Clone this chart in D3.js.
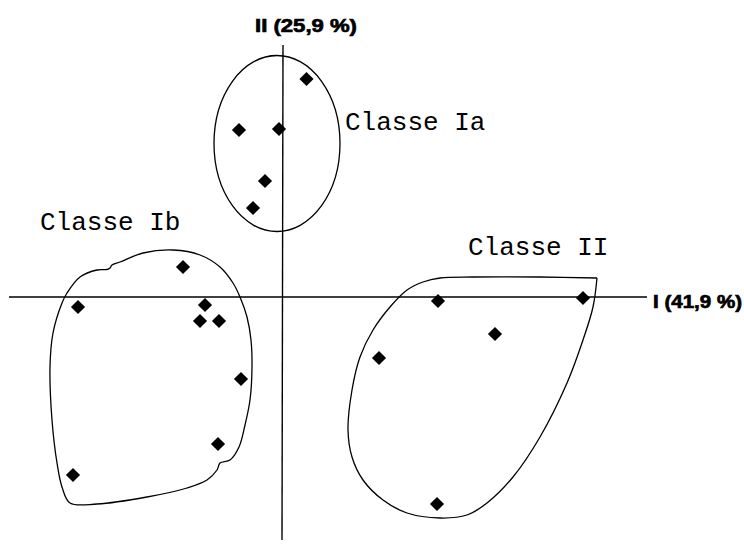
<!DOCTYPE html>
<html>
<head>
<meta charset="utf-8">
<script src="https://cdn.jsdelivr.net/npm/d3@7"></script>
<style>
  html, body { margin: 0; padding: 0; background: #fff; }
  svg { display: block; }
</style>
</head>
<body>
<svg class="chart"></svg>
<script>
const width = 744;
const height = 544;

// factor scores (axis I, axis II)
const classIa = [[0.45, 4.36], [-0.90, 3.34], [-0.10, 3.36], [-0.38, 2.32], [-0.62, 1.78]];
const classIb = [[-2.02, 0.60], [-4.12, -0.20], [-1.58, -0.16], [-1.68, -0.48], [-1.30, -0.48],
                 [-0.86, -1.64], [-1.32, -2.94], [-4.22, -3.56]];
const classII = [[3.08, -0.08], [5.98, -0.02], [4.22, -0.74], [1.90, -1.22], [3.06, -4.14]];

// hand drawn class contours, same units
const ellipseIa = { cx: -0.14, cy: 3.07, rx: 1.26, ry: 1.76 };
const contourIb = [[-3.48, 0.58], [-3.44, 0.64], [-3.28, 0.70], [-2.82, 0.88], [-2.22, 0.94], [-1.68, 0.84],
                   [-1.28, 0.60], [-1.02, 0.28], [-0.88, 0.00], [-0.74, -0.40], [-0.66, -0.86],
                   [-0.64, -1.40], [-0.68, -2.06], [-0.78, -2.56], [-0.90, -3.00], [-1.08, -3.26],
                   [-1.28, -3.32], [-1.34, -3.46], [-1.54, -3.66], [-1.94, -3.82], [-2.74, -4.00],
                   [-3.74, -4.14], [-4.28, -4.12], [-4.44, -3.80], [-4.54, -3.32], [-4.64, -2.46],
                   [-4.68, -1.40], [-4.62, -0.72], [-4.44, -0.12], [-4.34, 0.08], [-4.08, 0.40],
                   [-3.74, 0.54], [-3.54, 0.55]];
const contourII = [[6.26, 0.38], [5.12, 0.40], [3.78, 0.40], [3.12, 0.38], [2.78, 0.30], [2.46, 0.14],
                   [2.12, -0.20], [1.78, -0.66], [1.52, -1.20], [1.36, -1.86], [1.28, -2.66],
                   [1.36, -3.20], [1.58, -3.66], [1.98, -4.06], [2.46, -4.32], [3.12, -4.42],
                   [3.66, -4.36], [4.06, -4.12], [4.58, -3.60], [5.12, -2.80], [5.66, -1.72],
                   [5.98, -0.86], [6.18, -0.20], [6.26, 0.38]];

const axisLabels = ['I (41,9 %)', 'II (25,9 %)'];
const classNames = ['Classe Ia', 'Classe Ib', 'Classe II'];

const svg = d3.select('.chart')
    .attr('width', width)
    .attr('height', height);

const xScale = d3.scaleLinear().domain([-5.5, 7.26]).range([9, 647]);
const yScale = d3.scaleLinear().domain([-4.86, 5.04]).range([540, 45]);

/*----- AXES ------*/
svg.append('line')
    .attr('x1', xScale.range()[0]).attr('x2', xScale.range()[1])
    .attr('y1', yScale(0)).attr('y2', yScale(0))
    .attr('stroke', '#000').attr('stroke-width', 1.4);

svg.append('line')
    .attr('x1', xScale(-0.02)).attr('x2', xScale(-0.04))
    .attr('y1', yScale.range()[1]).attr('y2', yScale.range()[0])
    .attr('stroke', '#000').attr('stroke-width', 1.4);

svg.append('text')
    .attr('x', 653).attr('y', 308)
    .attr('textLength', 89).attr('lengthAdjust', 'spacingAndGlyphs')
    .attr('stroke', '#000').attr('stroke-width', 0.7)
    .style('font', 'bold 19px "Liberation Sans", Arial, sans-serif')
    .text(axisLabels[0]);

svg.append('text')
    .attr('x', 255).attr('y', 32)
    .attr('textLength', 102).attr('lengthAdjust', 'spacingAndGlyphs')
    .attr('stroke', '#000').attr('stroke-width', 0.7)
    .style('font', 'bold 19px "Liberation Sans", Arial, sans-serif')
    .text(axisLabels[1]);

/*----- CONTOURS ------*/
const line = d3.line()
    .x(d => xScale(d[0]))
    .y(d => yScale(d[1]));

svg.append('ellipse')
    .attr('cx', xScale(ellipseIa.cx))
    .attr('cy', yScale(ellipseIa.cy))
    .attr('rx', xScale(ellipseIa.rx) - xScale(0))
    .attr('ry', yScale(0) - yScale(ellipseIa.ry))
    .attr('fill', 'none').attr('stroke', '#000').attr('stroke-width', 1.3);

svg.append('path')
    .attr('d', line.curve(d3.curveCatmullRomClosed.alpha(0.5))(contourIb))
    .attr('fill', 'none').attr('stroke', '#000').attr('stroke-width', 1.3);

svg.append('path')
    .attr('d', line.curve(d3.curveCatmullRom.alpha(0.5))(contourII))
    .attr('fill', 'none').attr('stroke', '#000').attr('stroke-width', 1.3);

/*----- POINTS ------*/
const diamond = d3.symbol().type(d3.symbolSquare).size(100);

svg.selectAll('path.pt')
    .data([...classIa, ...classIb, ...classII])
    .enter()
    .append('path')
    .attr('class', 'pt')
    .attr('d', diamond)
    .attr('transform', d => `translate(${xScale(d[0])},${yScale(d[1])}) rotate(45)`)
    .attr('fill', '#000');

/*----- CLASS LABELS ------*/
const labelPos = [[345, 130], [40, 230], [468, 255]];

svg.selectAll('text.cls')
    .data(classNames)
    .enter()
    .append('text')
    .attr('class', 'cls')
    .attr('x', (d, i) => labelPos[i][0])
    .attr('y', (d, i) => labelPos[i][1])
    .style('font', '26px "Liberation Mono", "Courier New", monospace')
    .text(d => d);
</script>
</body>
</html>
